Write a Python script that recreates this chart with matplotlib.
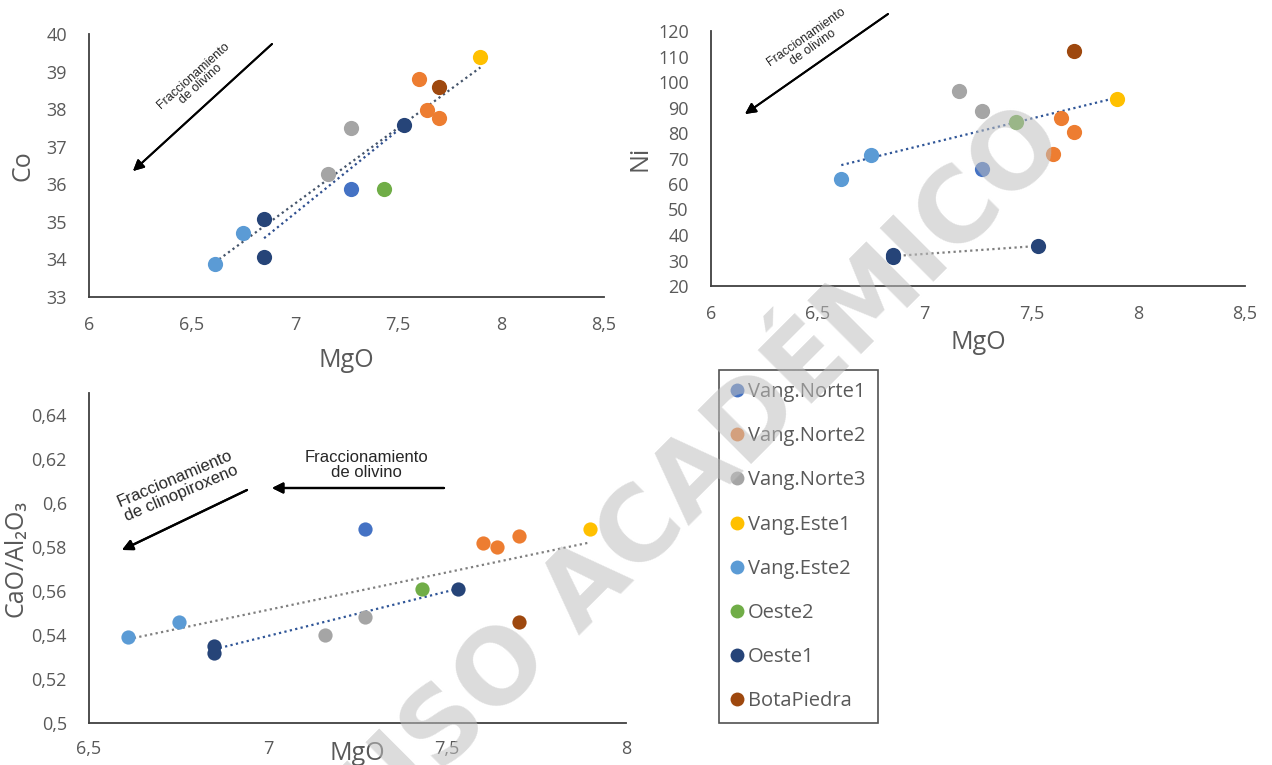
import numpy as np
import matplotlib
matplotlib.use("Agg")
import matplotlib.pyplot as plt
from matplotlib.lines import Line2D

plt.rcParams['font.family'] = ['Open Sans', 'DejaVu Sans']

# sample groups (legend order) and their colours
groups = ['Vang.Norte1', 'Vang.Norte2', 'Vang.Norte3', 'Vang.Este1',
          'Vang.Este2', 'Oeste2', 'Oeste1', 'BotaPiedra']
colors = ['#4472C4', '#ED7D31', '#A5A5A5', '#FFC000',
          '#5B9BD5', '#70AD47', '#264478', '#9E480E']

# MgO per group
mgo_norte1 = [7.27]
mgo_norte2 = [7.60, 7.64, 7.70]
mgo_norte3 = [7.16, 7.27]
mgo_este1 = [7.90]
mgo_este2 = [6.61, 6.75]
mgo_oeste2 = [7.43]
mgo_oeste1 = [6.85, 6.85, 7.53]
mgo_bota = [7.70]

# Co
co_norte1 = [35.87]
co_norte2 = [38.80, 37.97, 37.76]
co_norte3 = [36.27, 37.49]
co_este1 = [39.38]
co_este2 = [33.88, 34.70]
co_oeste2 = [35.87]
co_oeste1 = [35.07, 34.06, 37.57]
co_bota = [38.59]

# Ni
ni_norte1 = [65.9]
ni_norte2 = [71.8, 85.9, 80.4]
ni_norte3 = [96.5, 88.6]
ni_este1 = [93.3]
ni_este2 = [62.0, 71.4]
ni_oeste2 = [84.3]
ni_oeste1 = [31.4, 32.0, 35.7]
ni_bota = [112.0]

# CaO/Al2O3
ca_norte1 = [0.588]
ca_norte2 = [0.582, 0.580, 0.585]
ca_norte3 = [0.540, 0.548]
ca_este1 = [0.588]
ca_este2 = [0.539, 0.546]
ca_oeste2 = [0.561]
ca_oeste1 = [0.535, 0.532, 0.561]
ca_bota = [0.546]

mgo_all = [mgo_norte1, mgo_norte2, mgo_norte3, mgo_este1, mgo_este2, mgo_oeste2, mgo_oeste1, mgo_bota]
co_all = [co_norte1, co_norte2, co_norte3, co_este1, co_este2, co_oeste2, co_oeste1, co_bota]
ni_all = [ni_norte1, ni_norte2, ni_norte3, ni_este1, ni_este2, ni_oeste2, ni_oeste1, ni_bota]
ca_all = [ca_norte1, ca_norte2, ca_norte3, ca_este1, ca_este2, ca_oeste2, ca_oeste1, ca_bota]

W, H = 1272, 765
fig = plt.figure(figsize=(W / 100, H / 100), dpi=100)
fig.patch.set_facecolor('white')

def px(x, y):
    return x / W, 1 - y / H

def rect(l, t, r, b):
    return [l / W, 1 - b / H, (r - l) / W, (b - t) / H]

TXT = '#595959'

def style(ax, xt, yt, xl, yl, fmt_y):
    for s in ['top', 'right']:
        ax.spines[s].set_visible(False)
    for s in ['left', 'bottom']:
        ax.spines[s].set_color('#404040')
        ax.spines[s].set_linewidth(1.3)
    ax.set_xticks(xt)
    ax.set_yticks(yt)
    ax.set_xticklabels([('%g' % v).replace('.', ',') for v in xt])
    ax.set_yticklabels([fmt_y(v) for v in yt])
    ax.tick_params(length=0, labelsize=13, labelcolor=TXT)
    ax.tick_params(axis='x', pad=14)
    ax.tick_params(axis='y', pad=16)
    ax.set_xlim(xl)
    ax.set_ylim(yl)

def scatter_all(ax, yvals, s):
    for xs, ys, c in zip(mgo_all, yvals, colors):
        ax.scatter(xs, ys, s=s, color=c, zorder=3, linewidths=0)

def trend(ax, xs, ys, color):
    k, b = np.polyfit(xs, ys, 1)
    xx = np.array([min(xs), max(xs)])
    ax.plot(xx, k * xx + b, ls=(0, (1, 1.5)), lw=1.6, color=color, zorder=2)

# groups except Oeste1, used for the general trend
gen_idx = [0, 1, 2, 3, 4, 5, 7]

def general(vals):
    xs = np.concatenate([mgo_all[i] for i in gen_idx])
    ys = np.concatenate([vals[i] for i in gen_idx])
    return xs, ys

fr = dict(family=['Liberation Sans Narrow', 'Liberation Sans', 'DejaVu Sans'], color='#262626')

def arrow(a, b, lw=1.4):
    fig.add_artist(plt.annotate('', xy=px(*b), xytext=px(*a), xycoords='figure fraction',
                                textcoords='figure fraction',
                                arrowprops=dict(arrowstyle='-|>', color='black', lw=lw,
                                                mutation_scale=16, shrinkA=0, shrinkB=0)))

# ---- Co ----
ax1 = fig.add_axes(rect(89, 34, 604, 297))
style(ax1, [6, 6.5, 7, 7.5, 8, 8.5], list(range(33, 41)), (6, 8.5), (33, 40), lambda v: '%d' % v)
xs, ys = general(co_all)
trend(ax1, xs, ys, '#44546A')
trend(ax1, mgo_oeste1, co_oeste1, '#2F4F8F')
scatter_all(ax1, co_all, 120)
ax1.set_ylabel('Co', fontsize=18, color=TXT, labelpad=8)
ax1.set_xlabel('MgO', fontsize=18, color=TXT, labelpad=10)
arrow((272, 44), (133, 171))
fig.text(*px(197, 80), 'Fraccionamiento\nde olivino', rotation=42, ha='center', va='center',
         fontsize=9, linespacing=1.0, rotation_mode='anchor', **fr)

# ---- Ni ----
ax2 = fig.add_axes(rect(711, 31, 1245, 286))
style(ax2, [6, 6.5, 7, 7.5, 8, 8.5], list(range(20, 121, 10)), (6, 8.5), (20, 120), lambda v: '%d' % v)
xs, ys = general(ni_all)
trend(ax2, xs, ys, '#2F5597')
trend(ax2, mgo_oeste1, ni_oeste1, '#7F7F7F')
scatter_all(ax2, ni_all, 120)
ax2.set_ylabel('Ni', fontsize=18, color=TXT, labelpad=4)
ax2.set_xlabel('MgO', fontsize=18, color=TXT, labelpad=5)
arrow((888, 14), (745, 114))
fig.text(*px(810, 42), 'Fraccionamiento\nde olivino', rotation=35, ha='center', va='center',
         fontsize=9, linespacing=1.0, rotation_mode='anchor', **fr)

# ---- CaO/Al2O3 ----
ax3 = fig.add_axes(rect(89, 393, 626, 723))
style(ax3, [6.5, 7, 7.5, 8], [0.5 + 0.02 * i for i in range(8)], (6.5, 8), (0.5, 0.65),
      lambda v: ('%g' % round(v, 2)).replace('.', ','))
ax3.tick_params(axis='x', pad=12)
xs, ys = general(ca_all)
trend(ax3, xs, ys, '#7F7F7F')
trend(ax3, mgo_oeste1, ca_oeste1, '#2F5597')
scatter_all(ax3, ca_all, 105)
ax3.set_ylabel('CaO/Al₂O₃', fontsize=18, color=TXT, labelpad=2)
ax3.set_xlabel('MgO', fontsize=18, color=TXT, labelpad=-12)
arrow((444, 488), (272, 488), lw=1.6)
fig.text(*px(366, 465), 'Fraccionamiento\nde olivino', ha='center', va='center',
         fontsize=12, linespacing=1.0, **fr)
arrow((247, 490), (122, 550), lw=1.6)
fig.text(*px(178, 486), 'Fraccionamiento\nde clinopiroxeno', rotation=23, ha='center', va='center',
         fontsize=12, linespacing=1.0, rotation_mode='anchor', **fr)

# ---- legend ----
handles = [Line2D([], [], ls='', marker='o', markersize=10, markerfacecolor=c,
                  markeredgewidth=0) for c in colors]
leg = fig.legend(handles, groups, loc='upper left', bbox_to_anchor=px(719, 370),
                 frameon=True, fancybox=False, fontsize=14.5, labelspacing=1.2,
                 handlelength=0.6, handletextpad=0.25, borderpad=0.6, borderaxespad=0)
leg.get_frame().set_edgecolor('#262626')
leg.get_frame().set_linewidth(1.2)
for t in leg.get_texts():
    t.set_color(TXT)

# watermark
fig.text(*px(705, 470), 'USO ACADÉMICO', rotation=45, ha='center', va='center',
         fontsize=74, fontweight='bold', color='#BFBFBF', alpha=0.55,
         family=['DejaVu Sans'], zorder=10)

fig.savefig('out.png', dpi=100)
